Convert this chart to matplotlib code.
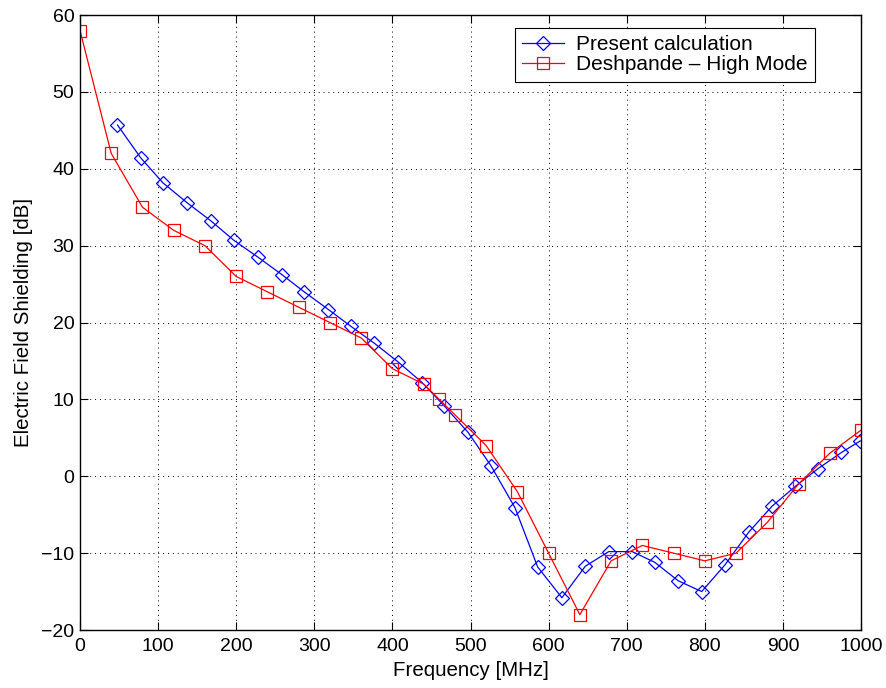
import matplotlib
matplotlib.use("Agg")
import matplotlib.pyplot as plt
import numpy as np

plt.rcParams['font.family'] = ['Liberation Sans', 'DejaVu Sans']

blue_x = [48, 78, 106, 137, 168, 197, 228, 259, 287, 318, 347, 377, 407, 438, 466,
          497, 526, 557, 586, 617, 647, 677, 707, 736, 766, 796, 826, 856, 886, 916,
          945, 975, 999]
blue_y = [45.7, 41.4, 38.2, 35.6, 33.2, 30.7, 28.5, 26.2, 24.0, 21.7, 19.5, 17.3, 14.9,
          12.2, 9.2, 5.7, 1.4, -4.1, -11.8, -15.8, -11.7, -9.8, -9.8, -11.2, -13.6,
          -15.0, -11.5, -7.3, -3.9, -1.3, 1.0, 3.1, 4.6]

red_x = [0, 40, 80, 120, 160, 200, 240, 280, 320, 360, 400, 440, 460, 480, 520, 560,
         600, 640, 680, 720, 760, 800, 840, 880, 920, 960, 1000]
red_y = [58, 42, 35, 32, 30, 26, 24, 22, 20, 18, 14, 12, 10, 8, 4, -2,
         -10, -18, -11, -9, -10, -11, -10, -6, -1, 3, 6]

xticks = list(range(0, 1001, 100))
yticks = list(range(-20, 61, 10))

fig = plt.figure(figsize=(8.86, 6.88), dpi=100)
ax = fig.add_axes([0.0903, 0.0843, 0.8815, 0.8937])

ax.plot(blue_x, blue_y, color='#0000ff', lw=0.9, marker='D', markersize=7,
        markerfacecolor='none', markeredgecolor='#0000ff', markeredgewidth=0.9,
        label='Present calculation')
ax.plot(red_x, red_y, color='#ff0000', lw=0.9, marker='s', markersize=8,
        markerfacecolor='none', markeredgecolor='#ff0000', markeredgewidth=0.9,
        label='Deshpande \u2013 High Mode')

ax.set_xlim(0, 1000)
ax.set_ylim(-20, 60)
ax.set_xticks(xticks)
ax.set_yticks(yticks)
ax.set_xticklabels([str(t) for t in xticks])
ax.set_yticklabels([('\u2212' + str(-t)) if t < 0 else str(t) for t in yticks])
ax.tick_params(direction='in', top=True, right=True, labelsize=14, length=6, width=0.8)
ax.tick_params(axis='x', pad=6)
ax.tick_params(axis='y', pad=4)
ax.grid(True, linestyle=(0, (1, 4)), color='black', linewidth=0.7)
for s in ax.spines.values():
    s.set_linewidth(1.0)

ax.set_xlabel('Frequency [MHz]', fontsize=14.8, labelpad=4)
ax.set_ylabel('Electric Field Shielding [dB]', fontsize=14.8, labelpad=6)

leg = ax.legend(loc='upper right', bbox_to_anchor=(0.941, 0.979), borderaxespad=0,
                fontsize=15, fancybox=False, edgecolor='black', framealpha=1,
                handlelength=2.0, handletextpad=0.6, borderpad=0.35,
                labelspacing=0.05)
leg.get_frame().set_linewidth(0.8)

fig.savefig('out.png', dpi=100)
